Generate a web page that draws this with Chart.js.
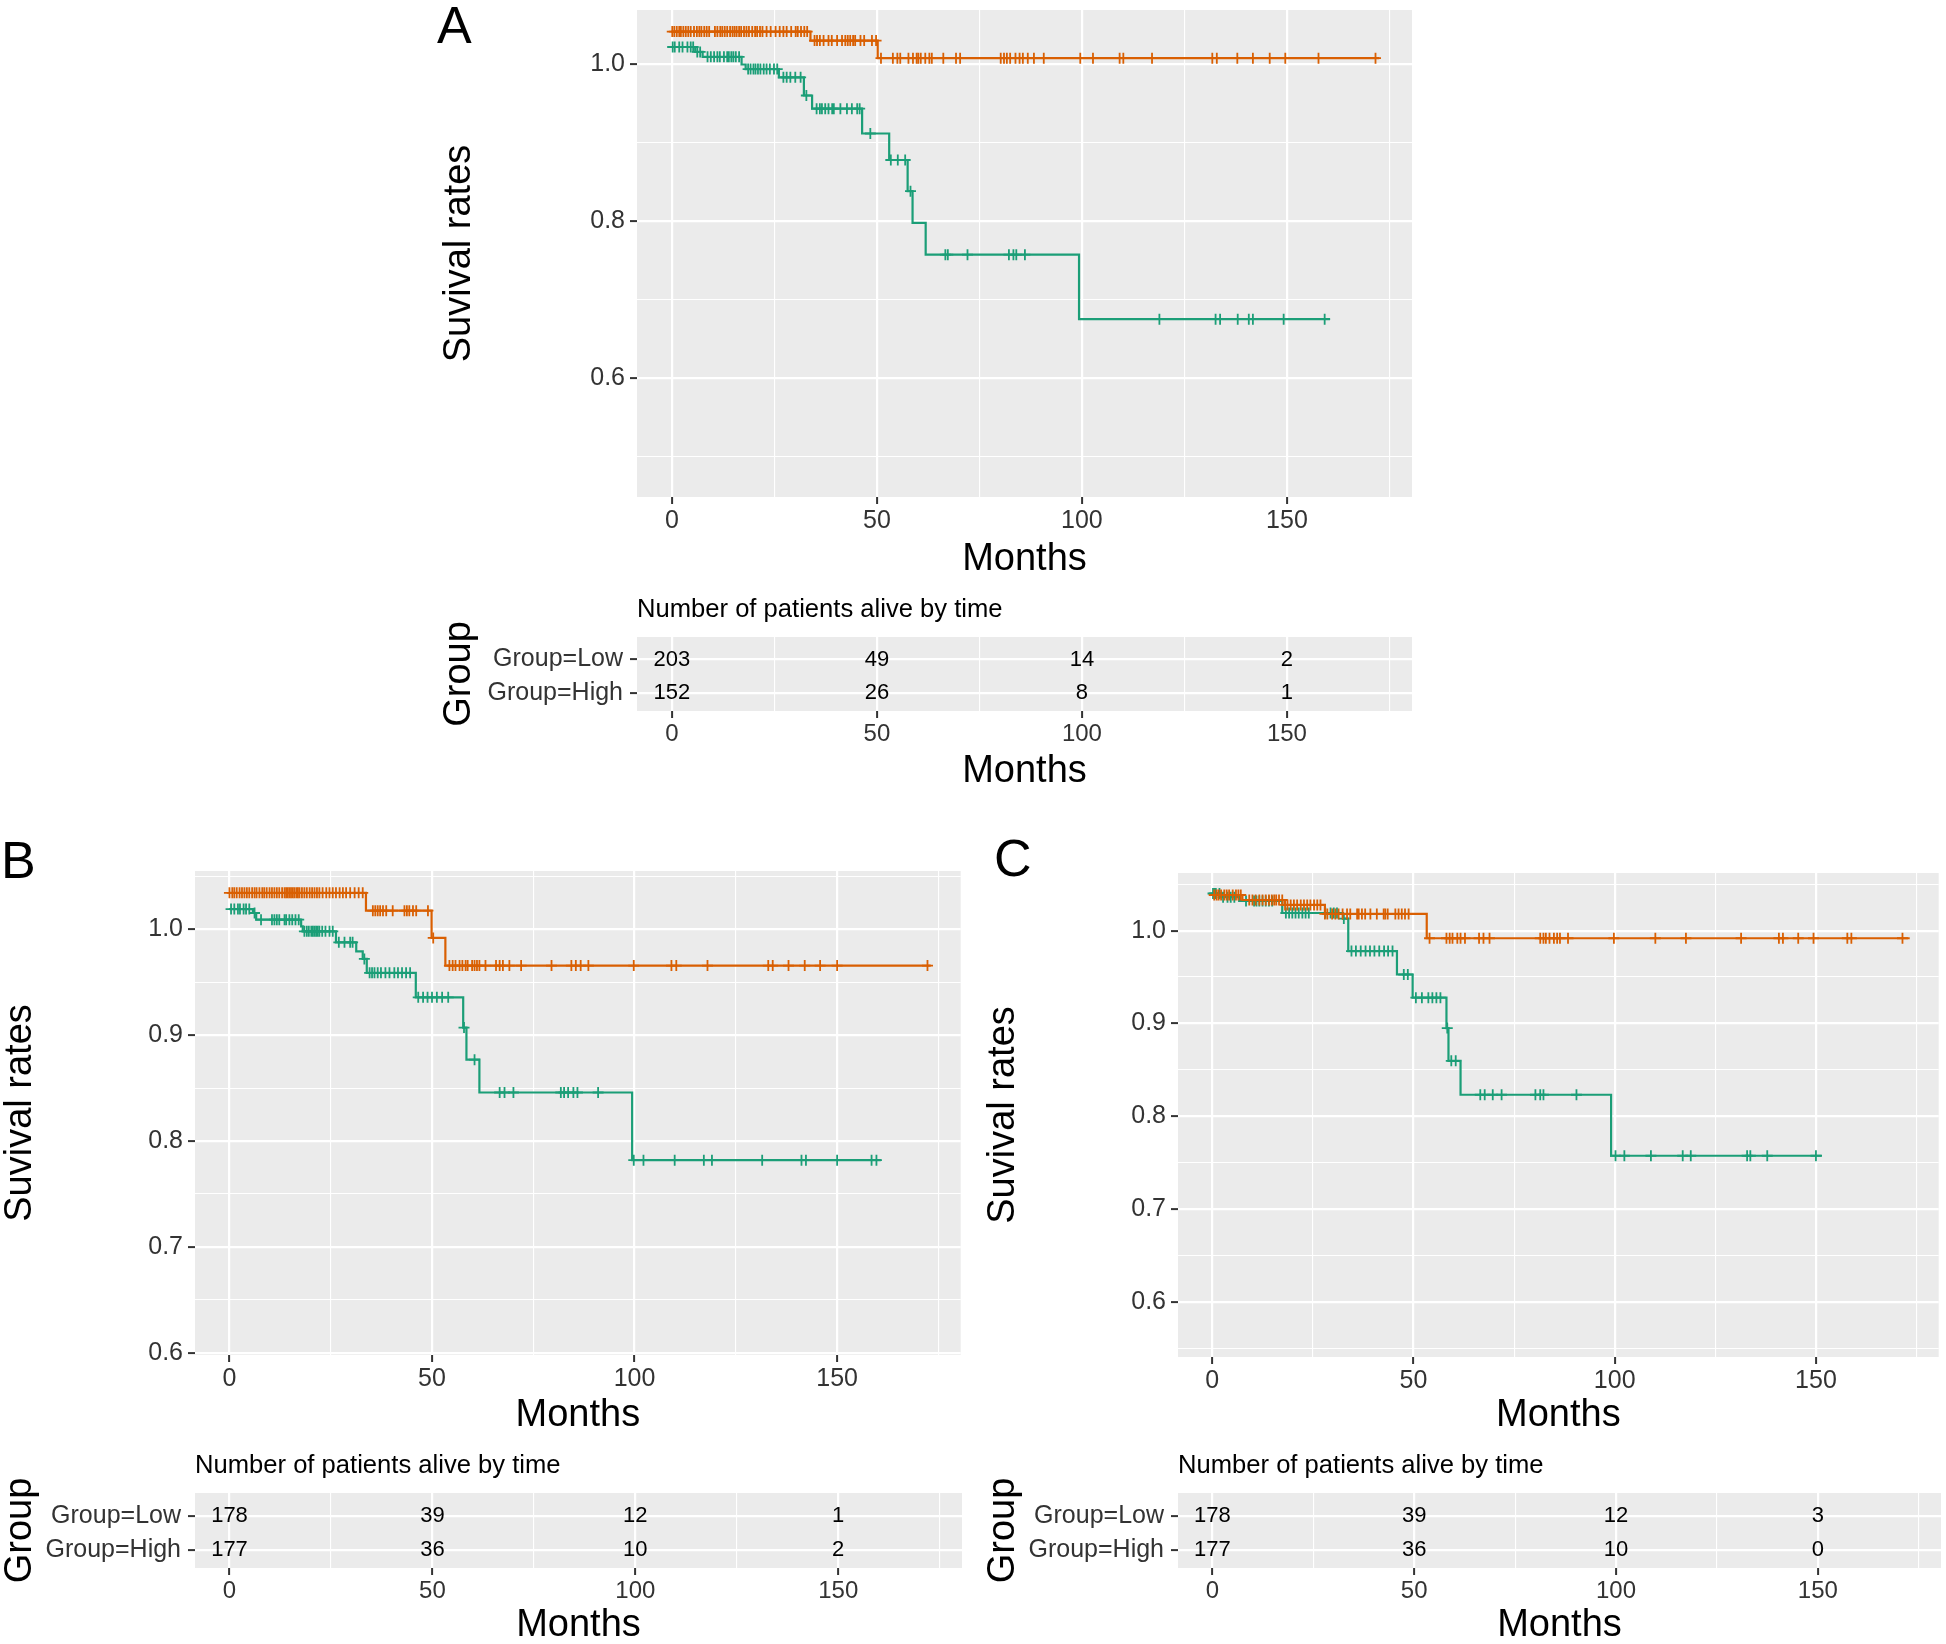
<!DOCTYPE html>
<html>
<head>
<meta charset="utf-8">
<script src="https://cdn.jsdelivr.net/npm/chart.js@4.4.1/dist/chart.umd.min.js"></script>
<style>
html, body { margin: 0; padding: 0; background: #fff; width: 1946px; height: 1644px; overflow: hidden; position: relative; }
canvas { position: absolute; }
.tag { position: absolute; font-family: 'Liberation Sans', Arial, sans-serif; font-size: 52px; line-height: 52px; color: #000; }
</style>
</head>
<body>
<div class="tag" style="left:437px; top:-1px;">A</div>
<div class="tag" style="left:1px; top:834px;">B</div>
<div class="tag" style="left:994px; top:832px;">C</div>

<canvas id="km-a"></canvas>
<canvas id="risk-a"></canvas>
<canvas id="km-b"></canvas>
<canvas id="risk-b"></canvas>
<canvas id="km-c"></canvas>
<canvas id="risk-c"></canvas>

<script>
// ---- axis ticks ----
const monthTicks = [0, 25, 50, 75, 100, 125, 150, 175];
const monthLabels = [0, 50, 100, 150];
const yTicksA = [0.5, 0.6, 0.7, 0.8, 0.9, 1.0];
const yLabelsA = [0.6, 0.8, 1.0];
const yTicksB = [0.6, 0.65, 0.7, 0.75, 0.8, 0.85, 0.9, 0.95, 1.0, 1.05];
const yTicksC = [0.55, 0.6, 0.65, 0.7, 0.75, 0.8, 0.85, 0.9, 0.95, 1.0, 1.05];
const yLabelsBC = [0.6, 0.7, 0.8, 0.9, 1.0];

// ---- panel A: [month, survival] after each step ----
const lowStepsA = [[0, 1.0415], [33.8, 1.030], [50.2, 1.0076], [172.5, 1.0076]];
const highStepsA = [[0, 1.0218], [5.7, 1.0156], [7.5, 1.0093], [17.0, 0.9995], [18.0, 0.9937], [26.1, 0.9832],
    [32.2, 0.960], [34.2, 0.9432], [46.4, 0.9115], [53.0, 0.8777], [57.5, 0.838], [58.7, 0.7975], [61.9, 0.757],
    [99.3, 0.6747], [160.5, 0.6747]];
const lowCensorA = [0.1, 0.6, 1.2, 1.8, 2.2, 2.8, 3.4, 4.0, 4.6, 5.4, 6.1, 6.7, 7.2, 7.9, 8.5, 9.1, 10.5, 11.1, 11.8,
    12.3, 12.9, 13.5, 14.2, 14.8, 15.3, 15.8, 16.4, 16.9, 17.6, 18.2, 18.8, 19.6, 20.3, 20.8, 21.5, 22.1, 23.1, 24.1,
    25.3, 26.3, 27.2, 28.0, 29.1, 30.2, 30.7, 31.5, 32.3, 33.0,
    34.8, 35.4, 36.1, 37.0, 38.2, 39.0, 40.3, 41.5, 42.3, 42.9, 43.5, 44.2, 44.7, 46.0, 46.9, 48.8, 49.8,
    51.0, 53.9, 55.0, 55.7, 57.7, 58.8, 59.7, 60.1, 60.7, 61.8, 62.8, 63.4, 66.2, 69.3, 70.3, 80.2, 81.0, 81.7, 82.5,
    83.8, 84.8, 85.6, 86.8, 88.3, 90.7, 99.6, 102.7, 109.2, 110.1, 117.1, 131.8, 132.9, 137.9, 141.7, 145.8, 149.6,
    157.7, 171.6];
const highCensorA = [0.2, 0.7, 1.8, 2.6, 3.8, 4.6, 5.2, 6.2, 6.9, 8.7, 9.5, 10.3, 11.1, 11.7, 12.7, 13.5, 13.9, 14.5,
    15.0, 15.6, 16.4, 18.6, 19.2, 19.9, 20.4, 21.0, 21.6, 22.4, 23.1, 23.9, 24.9, 25.7, 27.2, 28.0, 28.9, 30.1, 31.4,
    32.8, 35.3, 36.1, 36.6, 37.4, 38.2, 39.1, 39.5, 41.1, 42.7, 43.9, 45.2, 45.8, 48.4, 53.4, 55.1, 56.9, 58.2, 66.7,
    67.3, 72.1, 82.2, 83.3, 84.0, 86.1, 118.9, 132.6, 133.7, 138.0, 140.7, 141.7, 149.2, 159.2];

// ---- panel B ----
const lowStepsB = [[0, 1.0348], [33.7, 1.0179], [49.9, 0.9921], [53.3, 0.966], [173.1, 0.966]];
const highStepsB = [[0, 1.0194], [5.8, 1.0157], [6.6, 1.0094], [17.7, 1.0031], [18.1, 0.9984], [26.3, 0.988],
    [31.3, 0.9795], [32.9, 0.9723], [33.9, 0.9591], [46.0, 0.936], [57.7, 0.9074], [58.5, 0.877], [61.7, 0.846],
    [99.4, 0.782], [160.8, 0.782]];
const lowCensorB = [0.0, 0.7, 1.2, 1.8, 2.5, 3.1, 3.7, 4.3, 4.9, 5.6, 6.2, 6.7, 7.4, 8.1, 8.6, 9.2, 9.9, 10.5, 11.1,
    11.7, 12.3, 13.0, 13.6, 14.0, 14.4, 14.8, 15.2, 15.6, 16.0, 16.5, 16.9, 17.3, 17.9, 18.5, 19.1, 19.8, 20.4, 21.0,
    21.6, 22.2, 23.0, 23.9, 24.7, 25.5, 26.3, 27.2, 28.0, 28.8, 29.8, 30.9, 31.9, 32.9,
    35.4, 36.0, 36.6, 37.2, 37.9, 38.7, 40.3, 43.2, 43.8, 44.4, 45.3, 46.1, 49.0, 50.3,
    54.3, 55.1, 55.8, 56.8, 57.5, 58.3, 58.8, 59.9, 60.5, 61.1, 61.7, 63.2, 65.8, 66.7, 67.5, 69.1, 72.0, 79.5, 84.4,
    85.5, 86.7, 88.6, 99.8, 109.1, 110.3, 118.0, 133.0, 134.1, 138.0, 142.0, 145.8, 150.0, 172.3];
const highCensorB = [0.4, 1.2, 2.1, 2.6, 3.5, 4.1, 4.9, 6.2, 7.8, 10.5, 11.1, 11.7, 12.3, 13.6, 14.0, 14.8, 15.5,
    16.3, 17.1, 18.5, 19.1, 19.6, 20.2, 20.6, 21.0, 21.4, 21.8, 22.2, 22.9, 23.7, 24.7, 25.5, 27.0, 28.4, 29.8, 30.4,
    33.3, 34.6, 35.2, 35.8, 36.6, 37.4, 38.5, 39.5, 40.7, 41.6, 42.6, 43.6, 44.6, 46.6, 47.8, 48.9, 50.0, 51.2, 52.5,
    54.0, 57.9, 60.5, 66.7, 67.9, 70.1, 81.8, 82.6, 83.6, 84.9, 85.9, 91.0, 99.8, 102.2, 109.9, 117.1, 119.1, 131.5,
    141.2, 142.3, 150.0, 158.5, 159.7];

// ---- panel C ----
const lowStepsC = [[0, 1.0384], [7.5, 1.033], [18.0, 1.0277], [28.0, 1.018], [53.3, 0.9918], [173.3, 0.9918]];
const highStepsC = [[0, 1.040], [2.0, 1.036], [6.7, 1.032], [17.4, 1.019], [32.5, 1.013], [33.8, 0.978],
    [45.9, 0.9527], [49.8, 0.9277], [58.2, 0.895], [58.7, 0.8597], [61.7, 0.8231], [99.1, 0.7574], [151.5, 0.7574]];
const lowCensorC = [0.5, 1.1, 1.6, 2.2, 3.0, 3.6, 4.2, 5.1, 5.9, 6.5, 7.1, 9.2, 10.0, 10.8, 11.7, 12.5, 13.3, 14.1,
    14.8, 15.4, 15.9, 16.6, 17.4, 18.1, 18.7, 19.5, 20.3, 21.1, 22.0, 22.8, 23.6, 24.4, 25.3, 26.1, 26.9, 28.0, 28.6,
    29.8, 30.6, 31.4, 32.4, 33.5, 34.3, 36.0, 36.4, 37.2, 38.0, 39.3, 40.9, 42.6, 43.0, 43.6, 45.5, 46.3, 47.1, 47.9,
    48.8, 54.0, 58.2, 59.0, 59.7, 60.9, 61.7, 62.8, 66.3, 67.4, 68.9, 81.5, 82.3, 82.9, 83.8, 84.9, 85.7, 86.4, 88.4,
    99.8, 110.1, 117.7, 131.4, 140.8, 141.8, 145.6, 149.4, 157.8, 158.8, 171.5];
const highCensorC = [0.2, 0.5, 0.9, 1.8, 2.7, 3.8, 4.6, 5.5, 8.4, 10.4, 11.0, 11.7, 12.5, 13.3, 14.1, 14.9, 18.3,
    19.1, 19.9, 20.7, 21.5, 22.4, 23.2, 24.0, 28.1, 29.4, 30.2, 31.0, 32.7, 34.6, 35.7, 36.9, 38.1, 39.2, 40.3, 41.5,
    42.7, 43.7, 44.8, 47.6, 48.6, 50.6, 52.1, 53.7, 54.7, 55.7, 56.7, 58.4, 59.4, 60.5, 66.6, 67.7, 69.7, 71.9, 80.3,
    81.5, 82.3, 90.5, 100.2, 102.4, 109.0, 116.9, 118.9, 132.9, 133.7, 137.9, 150.0];

// ---- number at risk tables ----
const groups = ['Group=Low', 'Group=High'];
const riskMonths = [0, 50, 100, 150];
const riskLowA = [203, 49, 14, 2];
const riskHighA = [152, 26, 8, 1];
const riskLowB = [178, 39, 12, 1];
const riskHighB = [177, 36, 10, 2];
const riskLowC = [178, 39, 12, 3];
const riskHighC = [177, 36, 10, 0];

const ORANGE = '#D95F02';
const GREEN = '#1B9E77';
const PANEL = '#EBEBEB';
const TICK = '#333333';

Chart.defaults.font.family = "'Liberation Sans', Arial, sans-serif";
Chart.defaults.animation = false;
Chart.defaults.responsive = false;
Chart.defaults.plugins.legend.display = false;
Chart.defaults.plugins.tooltip.enabled = false;

const panelBg = {
    id: 'panelBg',
    beforeDraw(chart) {
        const a = chart.chartArea;
        const ctx = chart.ctx;
        ctx.save();
        ctx.fillStyle = PANEL;
        ctx.fillRect(a.left, a.top, a.right - a.left, a.bottom - a.top);
        ctx.restore();
    }
};

// survival value in force at month t
function survAt(steps, t) {
    let v = steps[0][1];
    for (let i = 0; i < steps.length; i++) {
        if (steps[i][0] <= t) v = steps[i][1];
    }
    return v;
}

function curve(steps, color) {
    return {
        data: steps.map(s => ({x: s[0], y: s[1]})),
        showLine: true,
        stepped: true,
        borderColor: color,
        borderWidth: 2.2,
        pointRadius: 0,
        fill: false
    };
}

function marks(steps, times, color) {
    return {
        data: times.map(t => ({x: t, y: survAt(steps, t)})),
        showLine: false,
        pointStyle: 'cross',
        pointRadius: 5.5,
        pointBorderWidth: 1.8,
        pointBorderColor: color,
        pointBackgroundColor: color
    };
}

function place(id, box) {
    const cv = document.getElementById(id);
    cv.width = box.w;
    cv.height = box.h;
    cv.style.left = box.left + 'px';
    cv.style.top = box.top + 'px';
    return cv;
}

function monthAxis(box, fontSize) {
    return {
        type: 'linear',
        min: -8.5,
        max: 180.5,
        afterBuildTicks: s => { s.ticks = monthTicks.map(v => ({value: v})); },
        afterFit: s => { s.height = box.xh; },
        ticks: {
            autoSkip: false, maxRotation: 0, padding: 2, color: TICK,
            font: {size: fontSize},
            callback: v => monthLabels.includes(v) ? String(v) : ''
        },
        grid: {
            color: '#FFFFFF',
            lineWidth: c => monthLabels.includes(c.tick.value) ? 2.2 : 1.1,
            tickLength: 7,
            tickWidth: 2,
            tickColor: c => monthLabels.includes(c.tick.value) ? TICK : 'rgba(0,0,0,0)'
        },
        border: {display: false},
        title: {display: true, text: 'Months', color: '#000', font: {size: 38}, padding: {top: 0, bottom: box.xtp}}
    };
}

function makeKM(id, box, yMin, yMax, yTicks, yLabels, lowSteps, lowCens, highSteps, highCens) {
    const cv = place(id, box);
    return new Chart(cv, {
        type: 'scatter',
        data: {
            datasets: [
                curve(lowSteps, ORANGE), marks(lowSteps, lowCens, ORANGE),
                curve(highSteps, GREEN), marks(highSteps, highCens, GREEN)
            ]
        },
        options: {
            devicePixelRatio: 1,
            events: [],
            layout: {padding: {top: box.pt, right: box.pr, left: 0, bottom: 0}},
            scales: {
                x: monthAxis(box, 25),
                y: {
                    type: 'linear',
                    min: yMin,
                    max: yMax,
                    afterBuildTicks: s => { s.ticks = yTicks.map(v => ({value: v})); },
                    afterFit: s => { s.width = box.yw; },
                    ticks: {
                        autoSkip: false, padding: 5, color: TICK, font: {size: 25},
                        callback: v => yLabels.includes(v) ? v.toFixed(1) : ''
                    },
                    grid: {
                        color: '#FFFFFF',
                        lineWidth: c => yLabels.includes(c.tick.value) ? 2.2 : 1.1,
                        tickLength: 7,
                        tickWidth: 2,
                        tickColor: c => yLabels.includes(c.tick.value) ? TICK : 'rgba(0,0,0,0)'
                    },
                    border: {display: false},
                    title: {display: true, text: 'Suvival rates', color: '#000', font: {size: 38}, padding: {top: box.ytp, bottom: 0}}
                }
            }
        },
        plugins: [panelBg]
    });
}

const riskText = {
    id: 'riskText',
    afterDatasetsDraw(chart) {
        const ctx = chart.ctx;
        const xs = chart.scales.x, ys = chart.scales.y;
        ctx.save();
        ctx.fillStyle = '#000';
        ctx.font = "22px 'Liberation Sans', Arial, sans-serif";
        ctx.textAlign = 'center';
        ctx.textBaseline = 'middle';
        chart.data.datasets.forEach(ds => {
            ds.data.forEach(p => {
                ctx.fillText(String(p.n), xs.getPixelForValue(p.x), ys.getPixelForValue(p.y));
            });
        });
        // table heading
        ctx.textAlign = 'left';
        ctx.font = "25.6px 'Liberation Sans', Arial, sans-serif";
        ctx.fillText('Number of patients alive by time', chart.chartArea.left, chart.chartArea.top - 27);
        ctx.restore();
    }
};

function makeRisk(id, box, lowCounts, highCounts) {
    const cv = place(id, box);
    // row 2 = Low (top), row 1 = High
    return new Chart(cv, {
        type: 'scatter',
        data: {
            datasets: [
                {data: riskMonths.map((m, i) => ({x: m, y: 2, n: lowCounts[i]})), pointRadius: 0},
                {data: riskMonths.map((m, i) => ({x: m, y: 1, n: highCounts[i]})), pointRadius: 0}
            ]
        },
        options: {
            devicePixelRatio: 1,
            events: [],
            layout: {padding: {top: box.pt, right: box.pr, left: 0, bottom: 0}},
            scales: {
                x: monthAxis(box, 24),
                y: {
                    type: 'linear',
                    min: 0.47,
                    max: 2.67,
                    afterBuildTicks: s => { s.ticks = [{value: 1}, {value: 2}]; },
                    afterFit: s => { s.width = box.yw; },
                    ticks: {
                        autoSkip: false, padding: 7, color: TICK, font: {size: 25},
                        callback: v => v === 2 ? groups[0] : groups[1]
                    },
                    grid: {color: '#FFFFFF', lineWidth: 2.2, tickLength: 7, tickWidth: 2, tickColor: TICK},
                    border: {display: false},
                    title: {display: true, text: 'Group', color: '#000', font: {size: 38}, padding: {top: box.ytp, bottom: 0}}
                }
            }
        },
        plugins: [panelBg, riskText]
    });
}

makeKM('km-a', {left: 420, top: -10, w: 1000, h: 600, pt: 15, pr: 8, yw: 217, xh: 93, ytp: 17, xtp: 8},
    0.448, 1.069, yTicksA, yLabelsA, lowStepsA, lowCensorA, highStepsA, highCensorA);
makeRisk('risk-a', {left: 420, top: 585, w: 1000, h: 215, pt: 52, pr: 8, yw: 217, xh: 89, ytp: 17, xtp: 6},
    riskLowA, riskHighA);

makeKM('km-b', {left: -2, top: 840, w: 970, h: 600, pt: 31, pr: 6, yw: 197, xh: 85, ytp: 0, xtp: 2},
    0.5978, 1.0554, yTicksB, yLabelsBC, lowStepsB, lowCensorB, highStepsB, highCensorB);
makeRisk('risk-b', {left: -2, top: 1440, w: 970, h: 214, pt: 53, pr: 6, yw: 197, xh: 86, ytp: 0, xtp: 6},
    riskLowB, riskHighB);

makeKM('km-c', {left: 975, top: 840, w: 971, h: 600, pt: 33, pr: 5, yw: 203, xh: 83, ytp: 6, xtp: 2},
    0.5405, 1.0621, yTicksC, yLabelsBC, lowStepsC, lowCensorC, highStepsC, highCensorC);
makeRisk('risk-c', {left: 975, top: 1440, w: 971, h: 214, pt: 53, pr: 5, yw: 203, xh: 86, ytp: 6, xtp: 6},
    riskLowC, riskHighC);
</script>
</body>
</html>
